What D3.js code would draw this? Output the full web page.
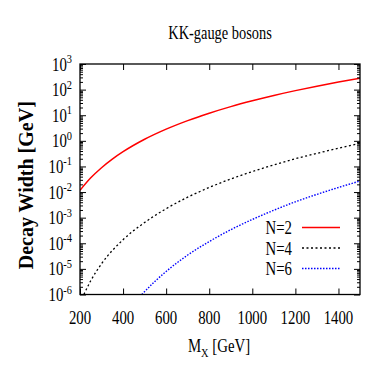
<!DOCTYPE html>
<html><head><meta charset="utf-8">
<script src="https://cdn.jsdelivr.net/npm/d3@7"></script>
<style>body{margin:0;background:#fff}svg{display:block}text{font-family:"Liberation Serif","Times New Roman",serif;fill:#000}</style>
</head><body><svg id="c" width="382" height="382"></svg>
<script>
const title = "KK-gauge bosons";
const xLabel = "M";
const xLabelSub = "X";
const xLabelRest = " [GeV]";
const yLabel = "Decay Width [GeV]";
const xTicks = [200, 400, 600, 800, 1000, 1200, 1400];
const yExponents = [-6, -5, -4, -3, -2, -1, 0, 1, 2, 3];
const seriesNames = ["N=2", "N=4", "N=6"];
const massN2 = [200, 250, 300, 350, 400, 500, 600, 700, 800, 900, 1000, 1100, 1200, 1300, 1400, 1500];
const widthN2 = [0.0117, 0.0359, 0.089, 0.193, 0.376, 1.15, 2.86, 6.17, 12.0, 21.7, 36.7, 59.2, 91.4, 136, 197, 279];
const massN4 = [218, 250, 300, 400, 500, 600, 700, 800, 900, 1000, 1100, 1200, 1300, 1400, 1500];
const widthN4 = [1.0e-6, 3.47e-6, 1.58e-5, 1.38e-4, 6.46e-4, 2.24e-3, 6.31e-3, 0.0151, 0.0324, 0.0631, 0.115, 0.200, 0.324, 0.513, 0.794];
const massN6 = [487, 550, 600, 700, 800, 900, 1000, 1100, 1200, 1300, 1400, 1500];
const widthN6 = [1.0e-6, 3.39e-6, 7.94e-6, 3.47e-5, 1.17e-4, 3.39e-4, 8.51e-4, 1.95e-3, 4.17e-3, 8.13e-3, 0.0151, 0.0269];

const svg = d3.select("#c");
const L = 80, R = 360, T = 64, B = 294.5;
const x = d3.scaleLinear().domain([200, 1500]).range([L, R]);
const y = d3.scaleLog().domain([1e-6, 1e3]).range([B, T]);
const SX = 0.8;

function txt(px, py, anchor, size, weight) {
  const g = svg.append("g").attr("transform", `translate(${px},${py}) scale(${SX},1)`);
  return g.append("text").attr("text-anchor", anchor).attr("font-size", size).attr("font-weight", weight || "normal");
}

const series = [
  {name: seriesNames[0], m: massN2, w: widthN2, color: "#ff0000", dash: null, lw: 1.5},
  {name: seriesNames[1], m: massN4, w: widthN4, color: "#000000", dash: "2,2.5", lw: 1.3},
  {name: seriesNames[2], m: massN6, w: widthN6, color: "#0000ff", dash: "1.5,1.5", lw: 1.4}
];

svg.append("clipPath").attr("id", "pc").append("rect")
  .attr("x", L).attr("y", T).attr("width", R - L).attr("height", B - T);

const line = d3.line().curve(d3.curveMonotoneX);
series.forEach(s => {
  svg.append("path")
    .attr("clip-path", "url(#pc)")
    .attr("d", line(s.m.map((mv, i) => [x(mv), y(s.w[i])])))
    .attr("fill", "none").attr("stroke", s.color).attr("stroke-width", s.lw)
    .attr("stroke-dasharray", s.dash);
});

const majorY = yExponents.map(e => Math.pow(10, e));
const minorY = [];
yExponents.slice(0, -1).forEach(e => { for (let k = 2; k <= 9; k++) minorY.push(k * Math.pow(10, e)); });

function styleAxis(g) { g.select(".domain").remove(); g.selectAll("line").attr("stroke", "#000").attr("stroke-width", 1); g.selectAll("text").remove(); }

svg.append("g").attr("transform", `translate(0,${B})`).call(d3.axisBottom(x).tickValues(xTicks).tickSize(-6)).call(styleAxis);
svg.append("g").attr("transform", `translate(0,${T})`).call(d3.axisTop(x).tickValues(xTicks).tickSize(-6)).call(styleAxis);
svg.append("g").attr("transform", `translate(${L},0)`).call(d3.axisLeft(y).tickValues(majorY).tickSize(-6)).call(styleAxis);
svg.append("g").attr("transform", `translate(${R},0)`).call(d3.axisRight(y).tickValues(majorY).tickSize(-6)).call(styleAxis);
svg.append("g").attr("transform", `translate(${L},0)`).call(d3.axisLeft(y).tickValues(minorY).tickSize(-3)).call(styleAxis);
svg.append("g").attr("transform", `translate(${R},0)`).call(d3.axisRight(y).tickValues(minorY).tickSize(-3)).call(styleAxis);

svg.append("rect").attr("x", L).attr("y", T).attr("width", R - L).attr("height", B - T)
  .attr("fill", "none").attr("stroke", "#000").attr("stroke-width", 1.3);

xTicks.forEach(v => { txt(x(v), 324, "middle", 18.5).text(v); });
yExponents.forEach(e => {
  const t = txt(72, y(Math.pow(10, e)) + 6.5, "end", 18.5);
  t.append("tspan").text("10");
  t.append("tspan").attr("font-size", 13).attr("dy", -7.5).text(e);
});

txt(220, 39, "middle", 18).text(title);
const xl = txt(219, 352, "middle", 18.5);
xl.append("tspan").text(xLabel);
xl.append("tspan").attr("font-size", 13).attr("dy", 5).text(xLabelSub);
xl.append("tspan").attr("dy", -5).text(xLabelRest);

svg.append("g").attr("transform", `translate(33,${(T + B) / 2 + 6}) rotate(-90)`)
  .append("text").attr("text-anchor", "middle").attr("font-size", 20).attr("font-weight", "bold").text(yLabel);

series.forEach((s, i) => {
  const cy = 227.5 + i * 20.5;
  txt(292, cy + 6.5, "end", 18.5).text(s.name);
  svg.append("line").attr("x1", 302).attr("x2", 340).attr("y1", cy).attr("y2", cy)
    .attr("stroke", s.color).attr("stroke-width", s.lw).attr("stroke-dasharray", s.dash);
});
</script></body></html>
